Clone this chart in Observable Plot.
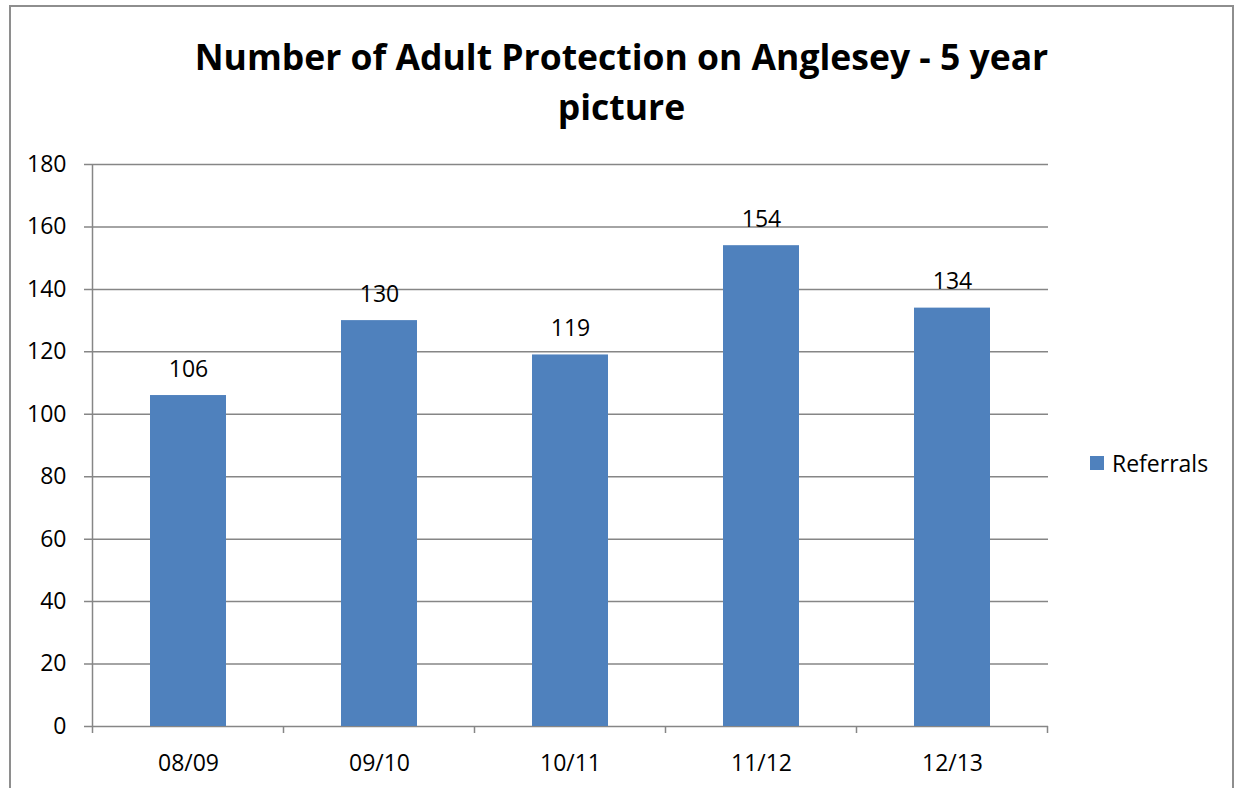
<!DOCTYPE html>
<html>
<head>
<meta charset="utf-8">
<script src="https://cdn.jsdelivr.net/npm/d3@7"></script>
<script src="https://cdn.jsdelivr.net/npm/@observablehq/plot@0.6"></script>
<style>
  html, body { margin: 0; padding: 0; background: #fff; }
  #wrap { position: relative; width: 1236px; height: 788px; overflow: hidden; font-family: "Open Sans", sans-serif; }
  #border { position: absolute; left: 9px; top: 5px; width: 1225px; height: 820px; border: 2px solid #8e8e8e; box-sizing: border-box; }
  #title { position: absolute; left: 10px; width: 1223px; top: 31px; text-align: center; font-weight: bold; font-size: 35.5px; line-height: 50px; color: #000; }
  #legend { position: absolute; left: 1090px; top: 447px; display: flex; align-items: center; font-size: 23px; color: #000; }
  #legend .sw { width: 14px; height: 14px; background: #4F81BD; margin-right: 8px; }
  #chart { position: absolute; left: 0; top: 0; }
</style>
</head>
<body>
<div id="wrap">
  <div id="border"></div>
  <div id="chart"></div>
  <div id="title">Number of Adult Protection on Anglesey - 5 year<br>picture</div>
  <div id="legend"><div class="sw"></div><span>Referrals</span></div>
</div>
<script>
const categories = ["08/09", "09/10", "10/11", "11/12", "12/13"];
const referrals = [106, 130, 119, 154, 134];
const yTicks = [0, 20, 40, 60, 80, 100, 120, 140, 160, 180];

const data = categories.map((c, i) => ({period: c, value: referrals[i]}));

const boundaryTicks = (index, scales, values, dimensions) => {
  const x = scales.x;
  const y = scales.y;
  const step = typeof x.step === "function" ? x.step() : (x(categories[1]) - x(categories[0]));
  const bw = typeof x.bandwidth === "function" ? x.bandwidth() : 0;
  const g = d3.create("svg:g");
  const y0 = y(0);
  const edges = [];
  categories.forEach(c => edges.push(x(c) + bw / 2 - step / 2));
  edges.push(x(categories[categories.length - 1]) + bw / 2 + step / 2);
  edges.forEach(px => {
    g.append("line").attr("x1", px).attr("x2", px).attr("y1", y0).attr("y2", y0 + 7)
      .attr("stroke", "#868686").attr("stroke-width", 1.5);
  });
  g.append("line").attr("x1", edges[0]).attr("x2", edges[0]).attr("y1", y(180)).attr("y2", y0)
    .attr("stroke", "#868686").attr("stroke-width", 1.5);
  return g.node();
};

const chart = Plot.plot({
  width: 1236,
  height: 788,
  marginLeft: 92,
  marginRight: 188,
  marginTop: 164,
  marginBottom: 62,
  style: {fontFamily: "'Open Sans', sans-serif", fontSize: "23px", color: "#000", background: "transparent"},
  x: {domain: categories, paddingInner: 0.6, paddingOuter: 0.3, label: null},
  y: {domain: [0, 180], label: null},
  marks: [
    Plot.ruleY(yTicks, {stroke: "#868686", strokeWidth: 1.5, strokeOpacity: 1, insetLeft: -8}),
    Plot.barY(data, {x: "period", y: "value", fill: "#4F81BD"}),
    Plot.text(data, {x: "period", y: "value", text: d => String(d.value), dy: -19, lineAnchor: "bottom", fontSize: 23, fill: "#000"}),
    Plot.axisY({ticks: yTicks, tickSize: 0, tickPadding: 26, fontSize: 23, fill: "#000"}),
    Plot.axisX({tickSize: 0, tickPadding: 28, fontSize: 23, fill: "#000"}),
    boundaryTicks
  ]
});
document.getElementById("chart").appendChild(chart);
</script>
</body>
</html>
